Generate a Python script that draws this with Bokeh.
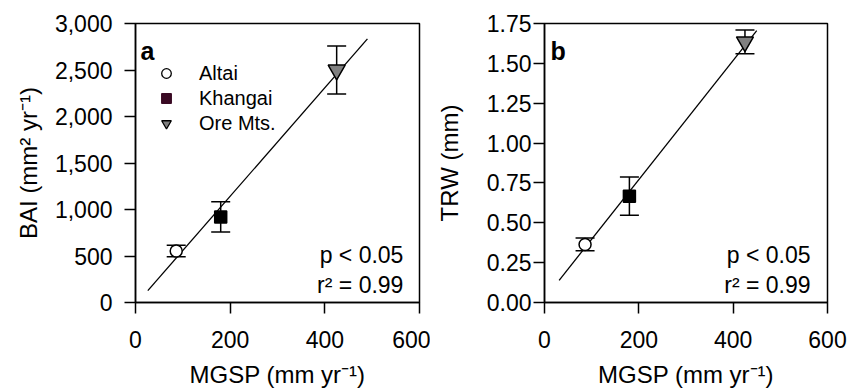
from bokeh.plotting import figure
from bokeh.layouts import row
from bokeh.models import (ColumnDataSource, Whisker, TeeHead, Label, Legend,
                          LegendItem, FixedTicker, NumeralTickFormatter, Range1d)
from bokeh.embed import file_html
from bokeh.resources import INLINE

# Site means (MGSP, mm/yr) with growth means and error ranges
sites = ["Altai", "Khangai", "Ore Mts."]
mgsp = [86, 180, 425]
bai = [554, 920, 2500]
bai_err = [62, 163, 258]
trw = [0.364, 0.667, 1.635]
trw_err = [0.040, 0.120, 0.075]

# Regression line end points
fit_a_x = [26, 490]
fit_a_y = [128, 2834]
fit_b_x = [31, 450]
fit_b_y = [0.139, 1.705]

x_ticks = [0, 200, 400, 600]
bai_ticks = [0, 500, 1000, 1500, 2000, 2500, 3000]
trw_ticks = [0, 0.25, 0.5, 0.75, 1.0, 1.25, 1.5, 1.75]

FONT = "Liberation Sans"
marker_style = [
    dict(marker="circle", size=12, fill_color="white", line_color="black"),
    dict(marker="square", size=12, fill_color="black", line_color="black"),
    dict(marker="inverted_triangle", size=17, fill_color="#808080", line_color="black"),
]
legend_style = [
    dict(marker="circle", fill_color="white", line_color="black"),
    dict(marker="square", fill_color="#3a0a24", line_color="#3a0a24"),
    dict(marker="inverted_triangle", fill_color="#808080", line_color="black"),
]


def make_panel(yvals, yerr, fit_x, fit_y, y_end, yticks, yfmt, ylabel, tag,
               width, left, right, ystandoff, ylabel_standoff, text_x, text_y1,
               text_y2, tag_x, tag_y, with_legend):
    p = figure(width=width, height=390, output_backend="svg", toolbar_location=None,
               x_range=Range1d(0, 600), y_range=Range1d(0, y_end),
               min_border_left=left, min_border_right=right,
               min_border_top=23, min_border_bottom=86)
    p.grid.visible = False
    p.outline_line_color = "black"
    p.outline_line_width = 1.5
    p.background_fill_color = "white"
    p.border_fill_color = "white"

    for ax in (p.xaxis[0], p.yaxis[0]):
        ax.axis_line_color = "black"
        ax.axis_line_width = 1.5
        ax.major_tick_line_color = "black"
        ax.major_tick_line_width = 1.5
        ax.major_tick_in = 0
        ax.major_tick_out = 11
        ax.minor_tick_line_color = None
        ax.major_label_text_font = FONT
        ax.major_label_text_font_size = "23px"
        ax.major_label_text_color = "black"
        ax.axis_label_text_font = FONT
        ax.axis_label_text_font_size = "24px"
        ax.axis_label_text_font_style = "normal"
        ax.axis_label_text_color = "black"

    p.xaxis.ticker = FixedTicker(ticks=x_ticks)
    p.xaxis.axis_label = "MGSP (mm yr\u207b\u00b9)"
    p.xaxis.major_label_standoff = 17
    p.xaxis.axis_label_standoff = 10

    p.yaxis.ticker = FixedTicker(ticks=yticks)
    p.yaxis.formatter = NumeralTickFormatter(format=yfmt)
    p.yaxis.axis_label = ylabel
    p.yaxis.major_label_standoff = ystandoff
    p.yaxis.axis_label_standoff = ylabel_standoff

    # fitted line
    p.line(fit_x, fit_y, line_color="black", line_width=1.3)

    # error bars
    src = ColumnDataSource(dict(x=mgsp, y=yvals,
                                lo=[v - e for v, e in zip(yvals, yerr)],
                                hi=[v + e for v, e in zip(yvals, yerr)]))
    w = Whisker(source=src, base="x", lower="lo", upper="hi", dimension="height",
                line_color="black", line_width=1.5,
                upper_head=TeeHead(size=19, line_color="black", line_width=1.5),
                lower_head=TeeHead(size=19, line_color="black", line_width=1.5))
    p.add_layout(w)

    # site markers
    for i, st in enumerate(marker_style):
        p.scatter([mgsp[i]], [yvals[i]], line_width=1.5, **st)

    if with_legend:
        # legend swatches only: their single point lies outside the data area
        items = []
        for name, st in zip(sites, legend_style):
            r = p.scatter([float("nan")], [float("nan")], line_width=1.3, **st)
            items.append(LegendItem(label=name, renderers=[r]))
        leg = Legend(items=items, location=(19, 167), margin=0, padding=0,
                     glyph_width=24, glyph_height=24, label_height=24, spacing=1,
                     label_standoff=21, label_text_font=FONT,
                     label_text_font_size="20px", label_text_color="black",
                     border_line_color=None, background_fill_alpha=0)
        p.add_layout(leg, "center")

    for txt, ty in (("p < 0.05", text_y1), ("r\u00b2 = 0.99", text_y2)):
        p.add_layout(Label(x=text_x, y=ty, text=txt, text_align="right",
                           text_baseline="alphabetic", text_font=FONT,
                           text_font_size="23px", text_color="black"))
    p.add_layout(Label(x=tag_x, y=tag_y, text=tag, text_align="left",
                       text_baseline="alphabetic", text_font=FONT,
                       text_font_size="25px", text_font_style="bold",
                       text_color="black"))
    return p


pa = make_panel(bai, bai_err, fit_a_x, fit_a_y, 3000, bai_ticks, "0,0",
                "BAI (mm\u00b2 yr\u207b\u00b9)", "a", 430, 135, 11, 12, 10,
                566, 507, 187, 10.5, 2700, True)
pb = make_panel(trw, trw_err, fit_b_x, fit_b_y, 1.75, trw_ticks, "0.00",
                "TRW (mm)", "b", 420, 114, 23, 2, 21,
                564, 0.296, 0.109, 12.7, 1.575, False)

layout = row(pa, pb)
open("out.html", "w").write(file_html(layout, INLINE))
